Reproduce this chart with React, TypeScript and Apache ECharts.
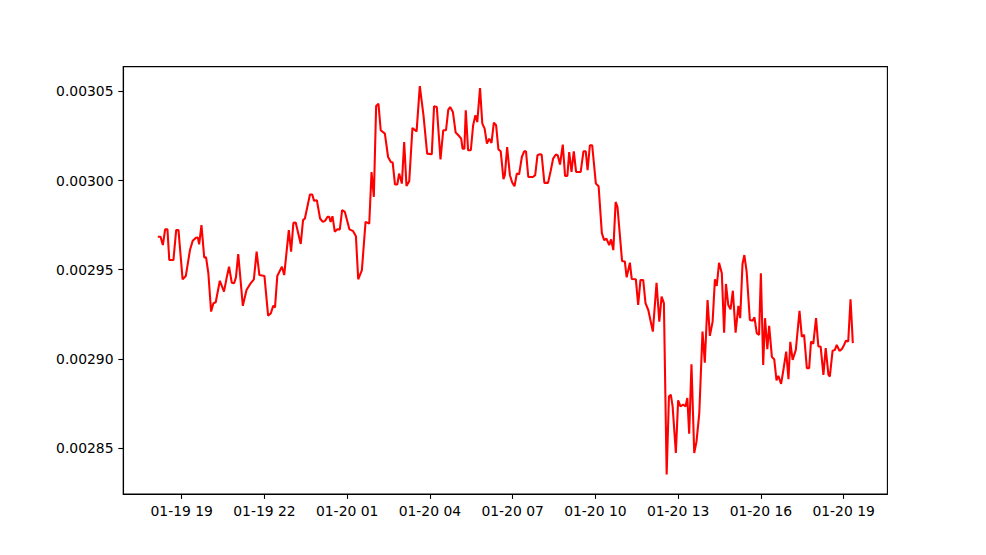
import React, { useEffect, useRef } from "react";
import * as echarts from "echarts";

const times: string[] = [
  "01-19 18:08", "01-19 18:14", "01-19 18:19", "01-19 18:24", "01-19 18:29", "01-19 18:33", "01-19 18:42", "01-19 18:48", "01-19 18:53",
  "01-19 19:02", "01-19 19:09", "01-19 19:18", "01-19 19:24", "01-19 19:31", "01-19 19:35", "01-19 19:38", "01-19 19:43", "01-19 19:49", "01-19 19:53", "01-19 19:58",
  "01-19 20:04", "01-19 20:09", "01-19 20:14", "01-19 20:23", "01-19 20:32", "01-19 20:38", "01-19 20:43", "01-19 20:49", "01-19 20:54", "01-19 20:58",
  "01-19 21:03", "01-19 21:13", "01-19 21:21", "01-19 21:29", "01-19 21:37", "01-19 21:43", "01-19 21:49",
  "01-19 22:00", "01-19 22:08", "01-19 22:14", "01-19 22:19", "01-19 22:23", "01-19 22:28", "01-19 22:38", "01-19 22:43", "01-19 22:53", "01-19 22:58",
  "01-19 23:03", "01-19 23:08", "01-19 23:19", "01-19 23:24", "01-19 23:28", "01-19 23:39", "01-19 23:44", "01-19 23:48", "01-19 23:54",
  "01-20 00:01", "01-20 00:07", "01-20 00:12", "01-20 00:17", "01-20 00:21", "01-20 00:24", "01-20 00:28", "01-20 00:33", "01-20 00:38", "01-20 00:44", "01-20 00:49", "01-20 00:55",
  "01-20 01:05", "01-20 01:13", "01-20 01:19", "01-20 01:24", "01-20 01:32", "01-20 01:40", "01-20 01:48", "01-20 01:53", "01-20 01:58",
  "01-20 02:03", "01-20 02:08", "01-20 02:13", "01-20 02:22", "01-20 02:29", "01-20 02:35", "01-20 02:39", "01-20 02:44", "01-20 02:49", "01-20 02:53", "01-20 02:59",
  "01-20 03:04", "01-20 03:09", "01-20 03:15", "01-20 03:22", "01-20 03:31", "01-20 03:38", "01-20 03:46", "01-20 03:54",
  "01-20 04:04", "01-20 04:09", "01-20 04:15", "01-20 04:23", "01-20 04:29", "01-20 04:35", "01-20 04:40", "01-20 04:44", "01-20 04:50", "01-20 04:56",
  "01-20 05:02", "01-20 05:08", "01-20 05:11", "01-20 05:15", "01-20 05:18", "01-20 05:23", "01-20 05:29", "01-20 05:34", "01-20 05:39", "01-20 05:43", "01-20 05:49", "01-20 05:54", "01-20 05:59",
  "01-20 06:04", "01-20 06:09", "01-20 06:14", "01-20 06:19", "01-20 06:24", "01-20 06:29", "01-20 06:34", "01-20 06:40", "01-20 06:43", "01-20 06:48", "01-20 06:54", "01-20 06:59",
  "01-20 07:04", "01-20 07:09", "01-20 07:14", "01-20 07:20", "01-20 07:25", "01-20 07:29", "01-20 07:34", "01-20 07:44", "01-20 07:49", "01-20 07:54", "01-20 07:58",
  "01-20 08:03", "01-20 08:09", "01-20 08:17", "01-20 08:23", "01-20 08:28", "01-20 08:34", "01-20 08:38", "01-20 08:43", "01-20 08:49", "01-20 08:54", "01-20 08:59",
  "01-20 09:03", "01-20 09:08", "01-20 09:13", "01-20 09:18", "01-20 09:28", "01-20 09:34", "01-20 09:39", "01-20 09:43", "01-20 09:48", "01-20 09:53",
  "01-20 10:01", "01-20 10:07", "01-20 10:14", "01-20 10:19", "01-20 10:24", "01-20 10:30", "01-20 10:34", "01-20 10:39", "01-20 10:44", "01-20 10:48", "01-20 10:58",
  "01-20 11:04", "01-20 11:08", "01-20 11:15", "01-20 11:19", "01-20 11:28", "01-20 11:33", "01-20 11:38", "01-20 11:44", "01-20 11:49", "01-20 11:55",
  "01-20 12:05", "01-20 12:13", "01-20 12:19", "01-20 12:24", "01-20 12:29", "01-20 12:35", "01-20 12:40", "01-20 12:44", "01-20 12:48", "01-20 12:55",
  "01-20 13:00", "01-20 13:05", "01-20 13:11", "01-20 13:16", "01-20 13:20", "01-20 13:24", "01-20 13:29", "01-20 13:35", "01-20 13:40", "01-20 13:46", "01-20 13:53", "01-20 13:58",
  "01-20 14:04", "01-20 14:09", "01-20 14:15", "01-20 14:20", "01-20 14:24", "01-20 14:29", "01-20 14:35", "01-20 14:40", "01-20 14:44", "01-20 14:49", "01-20 14:54", "01-20 14:59",
  "01-20 15:05", "01-20 15:11", "01-20 15:15", "01-20 15:20", "01-20 15:24", "01-20 15:29", "01-20 15:36", "01-20 15:42", "01-20 15:46", "01-20 15:51", "01-20 15:56",
  "01-20 16:00", "01-20 16:05", "01-20 16:09", "01-20 16:14", "01-20 16:18", "01-20 16:24", "01-20 16:29", "01-20 16:34", "01-20 16:38", "01-20 16:44", "01-20 16:49", "01-20 16:55",
  "01-20 17:00", "01-20 17:04", "01-20 17:09", "01-20 17:16", "01-20 17:24", "01-20 17:29", "01-20 17:34", "01-20 17:40", "01-20 17:45", "01-20 17:49", "01-20 17:54",
  "01-20 18:00", "01-20 18:05", "01-20 18:10", "01-20 18:16", "01-20 18:21", "01-20 18:27", "01-20 18:30", "01-20 18:36", "01-20 18:41", "01-20 18:45", "01-20 18:51", "01-20 18:56",
  "01-20 19:01", "01-20 19:05", "01-20 19:10", "01-20 19:15", "01-20 19:20",
];

const values: number[] = [
  0.0029685, 0.0029685, 0.0029638, 0.0029726, 0.0029726, 0.0029554, 0.0029554, 0.0029722, 0.0029722,
  0.0029446, 0.0029465, 0.002961, 0.0029662, 0.0029679, 0.0029681, 0.0029642, 0.002975, 0.0029569, 0.0029569, 0.002948,
  0.0029265, 0.0029312, 0.0029317, 0.0029438, 0.0029377, 0.0029457, 0.0029517, 0.0029427, 0.0029424, 0.0029457,
  0.0029588, 0.0029297, 0.0029386, 0.002942, 0.0029446, 0.0029601, 0.002947,
  0.0029465, 0.0029242, 0.0029256, 0.0029297, 0.0029289, 0.0029465, 0.0029517, 0.002947, 0.0029722, 0.0029601,
  0.0029763, 0.0029765, 0.0029644, 0.0029778, 0.0029787, 0.0029922, 0.0029922, 0.0029886, 0.002989,
  0.0029787, 0.0029768, 0.0029774, 0.0029796, 0.0029796, 0.0029768, 0.00298, 0.0029713, 0.0029726, 0.0029726, 0.0029834, 0.0029824,
  0.0029726, 0.0029716, 0.0029688, 0.0029446, 0.0029498, 0.0029768, 0.0029758, 0.0030048, 0.0029908,
  0.0030418, 0.0030431, 0.0030282, 0.0030263, 0.0030132, 0.0030104, 0.0030101, 0.0029978, 0.0029978, 0.0030039, 0.0029983,
  0.0030216, 0.002997, 0.0029996, 0.0030295, 0.0030276, 0.003053, 0.0030366, 0.0030151,
  0.0030147, 0.0030416, 0.0030412, 0.0030119, 0.0030282, 0.0030282, 0.0030398, 0.0030412, 0.0030384, 0.0030269,
  0.0030254, 0.0030235, 0.0030179, 0.0030179, 0.0030394, 0.003017, 0.003017, 0.003031, 0.0030366, 0.0030328, 0.0030518, 0.0030319, 0.0030291,
  0.0030207, 0.0030235, 0.0030211, 0.0030325, 0.003031, 0.0030175, 0.0030164, 0.0030008, 0.003003, 0.0030188, 0.003003, 0.0029989,
  0.0029968, 0.0030039, 0.0030035, 0.0030132, 0.0030164, 0.0030164, 0.003002, 0.003002, 0.003003, 0.0030142, 0.0030147,
  0.0030146, 0.0029987, 0.0029987, 0.0030058, 0.0030123, 0.0030146, 0.0030142, 0.003009, 0.0030202, 0.0030026, 0.0030026,
  0.003016, 0.0030048, 0.0030164, 0.0030048, 0.0030048, 0.0030164, 0.0030164, 0.0030058, 0.0030198, 0.0030198,
  0.0029983, 0.0029968, 0.0029705, 0.0029666, 0.0029674, 0.0029638, 0.002967, 0.002961, 0.002988, 0.0029852, 0.0029549,
  0.0029546, 0.0029457, 0.0029539, 0.0029448, 0.0029446, 0.0029302, 0.0029442, 0.0029442, 0.0029312, 0.0029274,
  0.0029153, 0.0029427, 0.0029209, 0.0029349, 0.0029312, 0.0028351, 0.0028789, 0.0028799, 0.0028733, 0.0028472,
  0.0028767, 0.0028733, 0.0028743, 0.0028733, 0.002878, 0.002858, 0.0028969, 0.0028472, 0.0028537, 0.0028696, 0.0029153, 0.0028979,
  0.002933, 0.0029129, 0.0029209, 0.0029446, 0.0029409, 0.0029539, 0.002948, 0.0029147, 0.002942, 0.0029302, 0.0029278, 0.0029382,
  0.0029147, 0.0029297, 0.0029228, 0.0029532, 0.0029582, 0.0029489, 0.0029218, 0.0029214, 0.0029233, 0.0029144, 0.0029134,
  0.002948, 0.0028966, 0.0029228, 0.0029054, 0.0029185, 0.002901, 0.0028998, 0.0028879, 0.0028905, 0.002886, 0.0028938, 0.0029041,
  0.0028886, 0.0029095, 0.0028994, 0.002905, 0.0029269, 0.0029125, 0.0029134, 0.0028948, 0.0028948, 0.0029097, 0.0029084,
  0.0029228, 0.0029069, 0.0029069, 0.002891, 0.002906, 0.002891, 0.0028901, 0.0029046, 0.002905, 0.0029078, 0.0029045, 0.0029054,
  0.0029078, 0.0029102, 0.0029097, 0.0029334, 0.0029088,
];

// tick positions in hours since 01-19 00:00
const xTickHours: number[] = [19, 22, 25, 28, 31, 34, 37, 40, 43];
const yTickValues: number[] = [0.00285, 0.0029, 0.00295, 0.003, 0.00305];

const X_MIN = 16.881;
const X_MAX = 44.587;
const Y_MIN = 0.0028242;
const Y_MAX = 0.0030639;

function toHours(s: string): number {
  const [md, hm] = s.split(" ");
  const day = parseInt(md.slice(3), 10);
  const [h, m] = hm.split(":").map((v) => parseInt(v, 10));
  return (day - 19) * 24 + h + m / 60;
}

function fmtHour(v: number): string {
  const hr = Math.round(v);
  const day = 19 + Math.floor(hr / 24);
  const h = hr % 24;
  return `01-${day} ${String(h).padStart(2, "0")}`;
}

export default function App() {
  const ref = useRef<HTMLDivElement>(null);
  useEffect(() => {
    if (!ref.current) return;
    const chart = echarts.init(ref.current, null, { renderer: "svg" });
    const data = times.map((t, i) => [toHours(t), values[i]]);
    const font = "DejaVu Sans";
    chart.setOption({
      animation: false,
      backgroundColor: "#ffffff",
      grid: {
        left: 123.25,
        right: 98.6,
        top: 66.6,
        bottom: 61,
        show: true,
        borderColor: "#000000",
        borderWidth: 1.1,
        backgroundColor: "transparent",
      },
      xAxis: {
        type: "value",
        min: X_MIN,
        max: X_MAX,
        splitLine: { show: false },
        axisLine: { show: true, lineStyle: { color: "#000", width: 1.1 } },
        axisTick: {
          show: true,
          length: 4.9,
          lineStyle: { color: "#000", width: 1.1 },
          customValues: xTickHours,
        },
        axisLabel: {
          color: "#000",
          fontFamily: font,
          fontSize: 13.9,
          margin: 9.7,
          customValues: xTickHours,
          formatter: (v: number) => fmtHour(v),
        },
      },
      yAxis: {
        type: "value",
        min: Y_MIN,
        max: Y_MAX,
        splitLine: { show: false },
        axisLine: { show: true, lineStyle: { color: "#000", width: 1.1 } },
        axisTick: {
          show: true,
          length: 4.9,
          lineStyle: { color: "#000", width: 1.1 },
          customValues: yTickValues,
        },
        axisLabel: {
          color: "#000",
          fontFamily: font,
          fontSize: 13.9,
          margin: 9.7,
          customValues: yTickValues,
          formatter: (v: number) => v.toFixed(5),
        },
      },
      series: [
        {
          type: "line",
          data,
          showSymbol: false,
          symbol: "none",
          lineStyle: { color: "#ff0000", width: 2.08 },
          itemStyle: { color: "#ff0000" },
        },
      ],
    });
    return () => chart.dispose();
  }, []);
  return (
    <div
      ref={ref}
      style={{ position: "fixed", left: 0, top: 0, width: 986, height: 555, background: "#fff" }}
    />
  );
}
